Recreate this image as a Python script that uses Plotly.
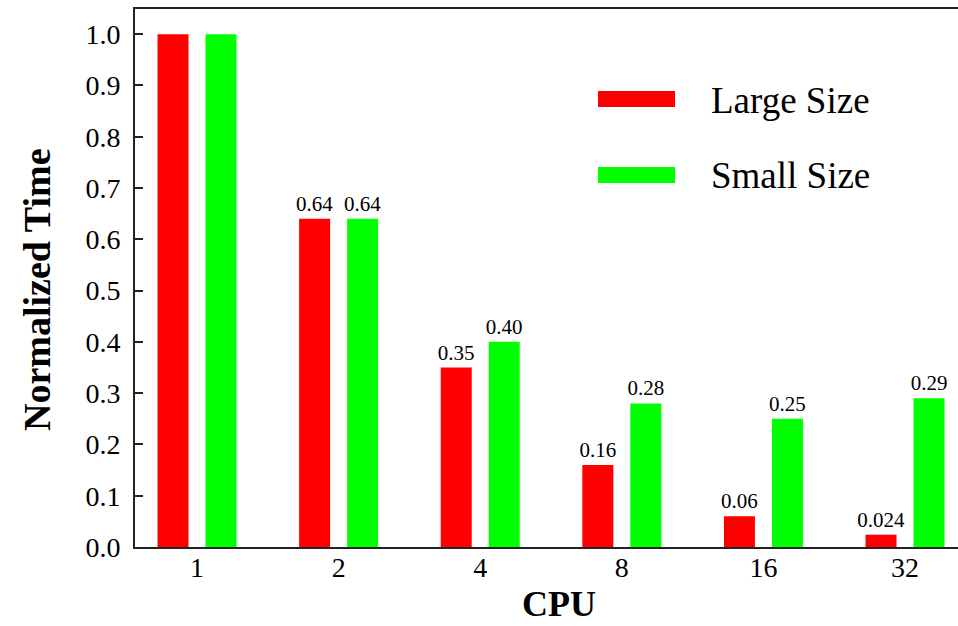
import plotly.graph_objects as go

cpus = ["1", "2", "4", "8", "16", "32"]
large_vals = [1.0, 0.64, 0.35, 0.16, 0.06, 0.024]
small_vals = [1.0, 0.64, 0.40, 0.28, 0.25, 0.29]
large_text = ["", "0.64", "0.35", "0.16", "0.06", "0.024"]
small_text = ["", "0.64", "0.40", "0.28", "0.25", "0.29"]
y_ticks = [0.0, 0.1, 0.2, 0.3, 0.4, 0.5, 0.6, 0.7, 0.8, 0.9, 1.0]
series_names = ["Large Size", "Small Size"]
colors = ["#ff0000", "#00ff00"]

FONT = "Liberation Serif"

W, H = 958, 626
L, R, T, B = 135, 958, 9, 547


def px(p):
    return (p - L) / (R - L)


def py(q):
    return (B - q) / (B - T)


fig = go.Figure()
for name, vals, txt, col in zip(series_names, [large_vals, small_vals],
                                [large_text, small_text], colors):
    fig.add_trace(go.Bar(
        x=cpus, y=vals, name=name, text=txt, textposition="outside",
        constraintext="none", cliponaxis=False,
        textfont=dict(family=FONT, size=21, color="black"),
        marker=dict(color=col, line=dict(width=0)),
        showlegend=False,
    ))

# manual legend
for i, (name, col) in enumerate(zip(series_names, colors)):
    yc = [99, 175][i]
    fig.add_shape(type="rect", xref="paper", yref="paper",
                  x0=px(598), x1=px(675), y0=py(yc + 8), y1=py(yc - 8),
                  fillcolor=col, line=dict(width=0))
    fig.add_annotation(xref="paper", yref="paper", x=px(709), y=py(yc + 1),
                       text=name, showarrow=False, xanchor="left", yanchor="middle",
                       font=dict(family=FONT, size=37, color="black"))

fig.add_annotation(xref="paper", yref="paper", x=px(559), y=py(604), text="CPU",
                   showarrow=False, xanchor="center", yanchor="middle",
                   font=dict(family=FONT, size=36, color="black", weight="bold"))
fig.add_annotation(xref="paper", yref="paper", x=px(37), y=py(290),
                   text="Normalized Time", textangle=-90,
                   showarrow=False, xanchor="center", yanchor="middle",
                   font=dict(family=FONT, size=38, color="black", weight="bold"))

fig.update_layout(
    width=W, height=H,
    margin=dict(l=L, r=W - R, t=T, b=H - B, pad=0),
    paper_bgcolor="white", plot_bgcolor="white",
    barmode="group", bargap=0.322, bargroupgap=0.354,
    font=dict(family=FONT, color="black"),
    showlegend=False,
)
fig.update_xaxes(
    type="category", range=[-0.438, 5.374],
    showline=True, linecolor="#222222", linewidth=2, mirror=True,
    ticks="", showgrid=False, zeroline=False,
    tickfont=dict(family=FONT, size=28, color="black"),
    ticklabelstandoff=-6,
)
fig.update_yaxes(
    range=[0, 1.049], tickvals=y_ticks, tickformat=".1f",
    showline=True, linecolor="#222222", linewidth=2, mirror=False,
    ticks="inside", ticklen=8, tickwidth=2, tickcolor="#222222",
    showgrid=False, zeroline=False,
    tickfont=dict(family=FONT, size=28, color="black"),
    ticklabelstandoff=7,
)

fig.write_html(
    "out.html",
    config={"displayModeBar": False},
    post_script="document.body.style.margin='0px';document.body.style.overflow='hidden';",
)
